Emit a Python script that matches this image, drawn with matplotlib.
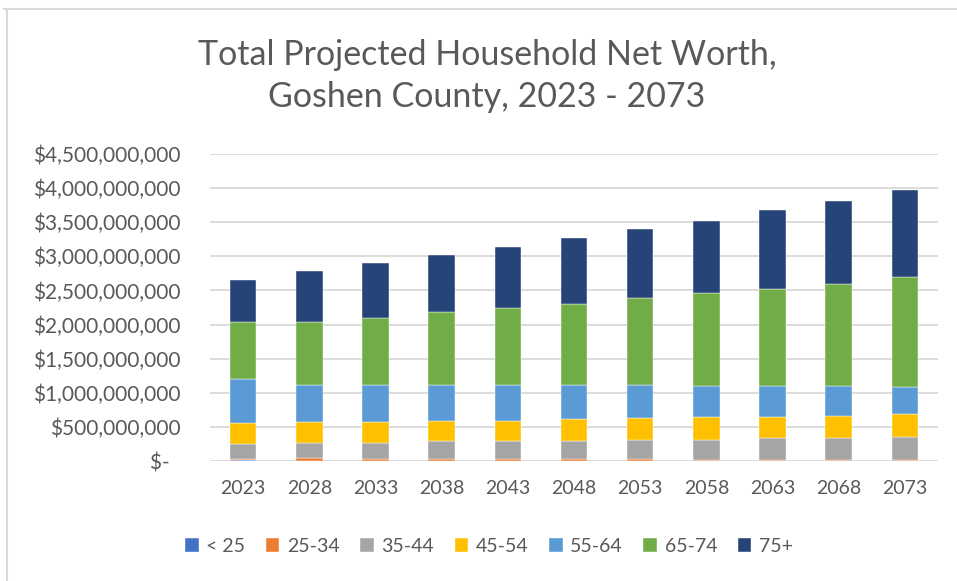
import numpy as np
import matplotlib
matplotlib.use("Agg")
import matplotlib.pyplot as plt
from matplotlib.lines import Line2D
from matplotlib.ticker import FuncFormatter, MultipleLocator

plt.rcParams.update({"font.family": ["Lato", "DejaVu Sans"], "text.color": "#595959"})

years = ["2023", "2028", "2033", "2038", "2043", "2048", "2053", "2058", "2063", "2068", "2073"]
groups = ["< 25", "25-34", "35-44", "45-54", "55-64", "65-74", "75+"]
colors = ["#4472C4", "#ED7D31", "#A5A5A5", "#FFC000", "#5B9BD5", "#70AD47", "#264478"]

# net worth by age group, $ millions
under25 = [8, 7, 7, 6, 6, 5, 5, 4, 4, 4, 3]
age25_34 = [27, 30, 27, 27, 25, 20, 18, 16, 15, 13, 12]
age35_44 = [216, 229, 232, 253, 255, 261, 287, 290, 311, 313, 335]
age45_54 = [301, 301, 301, 300, 300, 325, 316, 335, 315, 335, 340]
age55_64 = [644, 547, 547, 528, 528, 503, 488, 448, 448, 428, 394]
age65_74 = [848, 930, 983, 1066, 1126, 1186, 1270, 1365, 1424, 1502, 1610]
age75p = [606, 746, 808, 840, 900, 965, 1019, 1062, 1161, 1222, 1279]
series = [under25, age25_34, age35_44, age45_54, age55_64, age65_74, age75p]

fig = plt.figure(figsize=(9.57, 5.81), dpi=100)
ax = fig.add_axes([210/957, 1-461/581, 728/957, 307/581])

x = np.arange(len(years))
bottom = np.zeros(len(years))
for vals, lbl, col in zip(series, groups, colors):
    v = np.array(vals) * 1e6
    ax.bar(x, v, 0.4, bottom=bottom, color=col, label=lbl, edgecolor="white", linewidth=0.3, zorder=3)
    bottom += v

ax.set_xlim(-0.5, len(years) - 0.5)
ax.set_ylim(0, 4.5e9)
ax.yaxis.set_major_locator(MultipleLocator(5e8))

def money(v, pos):
    if v == 0:
        return "$-  "
    return f"${v:,.0f}"

ax.yaxis.set_major_formatter(FuncFormatter(money))
ax.set_xticks(x, years)
ax.grid(axis="y", color="#D9D9D9", lw=1.3, zorder=0)
for s in ax.spines.values():
    s.set_visible(False)
ax.tick_params(length=0, labelsize=14, colors="#595959")
ax.tick_params(axis="y", labelsize=15, pad=21)
ax.tick_params(axis="x", pad=14)

fig.text(0.509, 1-55/581, "Total Projected Household Net Worth,", ha="center", va="center", fontsize=24.5)
fig.text(0.509, 1-97/581, "Goshen County, 2023 - 2073", ha="center", va="center", fontsize=24.5)

fig.legend(loc="center", bbox_to_anchor=(0.511, 1-546/581), ncol=7, frameon=False,
           fontsize=14, handlelength=0.7, handleheight=0.7, handletextpad=0.4, columnspacing=1.05)

fig.add_artist(Line2D([4/957, 1], [1-9/581, 1-9/581], color="#D9D9D9", lw=1.5))
fig.add_artist(Line2D([6.5/957, 6.5/957], [0, 1-9/581], color="#D9D9D9", lw=1.5))

fig.savefig("out.png", dpi=100)
